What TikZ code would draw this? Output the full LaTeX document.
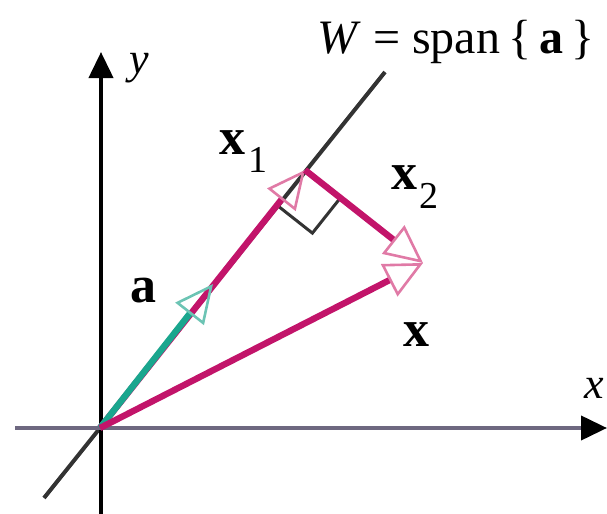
\documentclass[tikz,border=0pt]{standalone}
\usepackage{fontspec}
\setmainfont{Liberation Serif}
\usetikzlibrary{arrows.meta}
\definecolor{tealv}{HTML}{1AA68E}
\definecolor{magv}{HTML}{C2146A}
\definecolor{pinkt}{HTML}{E07AA6}
\definecolor{tealt}{HTML}{6CC4B4}
\definecolor{axisx}{HTML}{6E6880}
\definecolor{wline}{HTML}{333333}
\tikzset{
  vec/.style={line width=3.2pt},
  axis/.style={line width=2pt, -{Triangle[length=13pt,width=12pt,color=black]}},
  vtip/.style={-{Triangle[open,length=19pt,width=18pt,line width=1.3pt,color=#1]}},
  lbl/.style={inner sep=0pt, font=\fontsize{26}{30}\selectfont\bfseries},
  sub/.style={font=\fontsize{19}{22}\selectfont},
}
\begin{document}
\begin{tikzpicture}[x=0.5pt,y=-0.5pt]
\useasboundingbox (0,0) rectangle (607,514);
\coordinate (O) at (100,428);
\coordinate (Wlo) at (44,498);
\coordinate (Whi) at (385,72);
\coordinate (A) at (213,284);
\coordinate (X1) at (305,170);
\coordinate (X) at (423,263);
\coordinate (Ybot) at (101,514);
\coordinate (Ytop) at (101,52);
\coordinate (Xl) at (15,428);
\coordinate (Xr) at (607,428);
\coordinate (R1) at (277.0,205.2);
\coordinate (R2) at (340.4,197.9);
\coordinate (RC) at (312.4,233.1);
% line W
\draw[wline, line width=2pt] (Wlo) -- (Whi);
% axes
\draw[axis, black] (Ybot) -- (Ytop);
\draw[axis, axisx] (Xl) -- (Xr);
% right angle mark
\draw[wline, line width=1.5pt] (R1) -- (RC) -- (R2);
% vectors
\draw[vec, magv, vtip=pinkt] (O) -- (X1);
\draw[vec, tealv, vtip=tealt] (O) -- (A);
\draw[vec, magv, vtip=pinkt] (X1) -- (X);
\draw[vec, magv, vtip=pinkt] (O) -- (X);
% labels
\node[inner sep=0pt, font=\fontsize{24}{28}\selectfont] (Wlab) at (456,42) {\textit{W} = span\,\{\,\textbf{a}\,\}};
\node[inner sep=0pt, font=\fontsize{22}{26}\selectfont\itshape] (ylab) at (139,68) {y};
\node[inner sep=0pt, font=\fontsize{22}{26}\selectfont\itshape] (xlab) at (594,388) {x};
\node[lbl, anchor=base] (albl) at (143,302) {a};
\node[lbl, anchor=base] (xlbl) at (416,347) {x};
\node[lbl, anchor=base] (x1lbl) at (233,155) {x};
\node[sub, anchor=base] (x1sub) at (258,172) {1};
\node[lbl, anchor=base] (x2lbl) at (405,190) {x};
\node[sub, anchor=base] (x2sub) at (429,208) {2};
\end{tikzpicture}
\end{document}
